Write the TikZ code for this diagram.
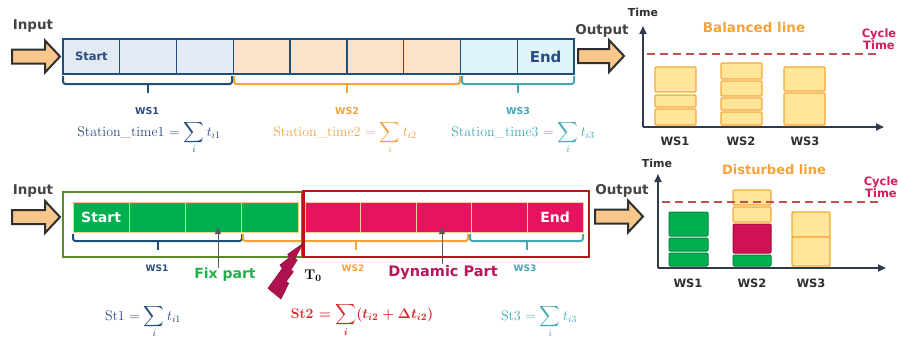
\RequirePackage{fix-cm}
\documentclass[tikz,border=0pt]{standalone}
\usepackage{amsmath}
\usepackage{fontspec}
\usetikzlibrary{arrows.meta}
\newfontfamily\vf{DejaVu Sans}
\newcommand\fsz[1]{\fontsize{#1}{#1}\selectfont}
\definecolor{dkblue}{HTML}{1F4E79}
\definecolor{txtblue}{HTML}{2B4C7E}
\definecolor{lblue}{HTML}{E2EAF4}
\definecolor{lorange}{HTML}{FCE3CB}
\definecolor{lcyan}{HTML}{DFF5FA}
\definecolor{orng}{HTML}{F6A33C}
\definecolor{tealc}{HTML}{42A8B6}
\definecolor{crimcell}{HTML}{E6135E}
\definecolor{dyntext}{HTML}{B8165A}
\definecolor{cyc}{HTML}{D81B60}
\definecolor{redf}{HTML}{D42A2A}
\definecolor{greencell}{HTML}{00B050}
\definecolor{fixgreen}{HTML}{22B04B}
\definecolor{gbox}{HTML}{5B8A2C}
\definecolor{rbox}{HTML}{B8151B}
\definecolor{celledge}{HTML}{F1D08A}
\definecolor{arrfill}{HTML}{F9C78B}
\definecolor{dkgray}{HTML}{2F2F2F}
\definecolor{yfill}{HTML}{FFE699}
\definecolor{ybord}{HTML}{F7A83A}
\definecolor{dashc}{HTML}{C0504D}
\definecolor{axisc}{HTML}{2F3A4A}
\definecolor{bolt}{HTML}{B0124F}
\newcommand\barr[3]{\draw[barrow,shift={(#1,#2)}] (0,-7) -- (#3-15,-7) -- (#3-15,-16) -- (#3,0) -- (#3-15,16) -- (#3-15,7) -- (0,7) -- cycle;}
\newcommand\wsbrace[6]{%
  \draw[#6, line width=2pt, rounded corners=2.5pt] (#1,#3) -- (#1,#4) -- (#2,#4) -- (#2,#3);
  \draw[#6, line width=2pt] ({(#1+#2)/2},#4) -- ({(#1+#2)/2},#5);}
\newcommand\bx[5]{\draw[#5] (#1,#3) rectangle (#2,#4);}
\tikzset{
  barrow/.style={fill=arrfill, draw=dkgray, line width=2pt, line join=miter},
  lbl/.style={font=\vf\bfseries, inner sep=0pt},
  tcell/.style={draw=dkblue, line width=1.4pt, minimum height=35pt, minimum width=56.78pt, inner sep=0pt},
  gcell/.style={draw=celledge, line width=0.9pt, fill=greencell, minimum height=30pt, minimum width=56.25pt, inner sep=0pt},
  rcell/.style={draw=celledge, line width=0.9pt, fill=crimcell, minimum height=30pt, minimum width=55.6pt, inner sep=0pt},
  ybar/.style={fill=yfill, draw=ybord, line width=1.4pt, rounded corners=1pt},
  gbar/.style={fill=greencell, draw=greencell!75!black, line width=1pt, rounded corners=1pt},
  cbar/.style={fill=crimcell!90!black, draw=crimcell!70!black, line width=1pt, rounded corners=1pt},
  axis/.style={draw=axisc, line width=1.8pt, -{Triangle[length=8pt,width=7pt]}},
  cyclen/.style={draw=dashc, line width=2pt, dash pattern=on 8pt off 5pt},
  pointer/.style={draw=dkgray!80, line width=1pt, -{Triangle[length=7pt,width=6pt]}},
  formula/.style={anchor=base, inner sep=0pt, font=\fsz{14}}
}
\begin{document}
\begin{tikzpicture}[x=1pt,y=-1pt]
\useasboundingbox[fill=white] (0,0) rectangle (898,338);

% ================= TOP ROW =================
\node[lbl, font=\vf\bfseries\fsz{13.5}, text=dkgray!90] (in1) at (33,26) {Input};
\barr{12}{56.5}{48}
\foreach \i/\c in {0/lblue,1/lblue,2/lblue,3/lorange,4/lorange,5/lorange,6/lorange,7/lcyan,8/lcyan}
  \node[tcell, fill=\c] (t\i) at ({63+56.78*(\i+0.5)},56.5) {};
\draw[dkblue, line width=2pt] (63,39) rectangle (574,74);
\node[lbl, font=\vf\bfseries\fsz{11.5}, text=txtblue] (startT) at (t0) {Start};
\node[lbl, font=\vf\bfseries\fsz{15}, text=txtblue] (endT) at (t8) {End};

\wsbrace{63}{232}{76}{84}{93}{dkblue}
\wsbrace{234}{460}{76}{84}{93}{orng}
\wsbrace{462}{574}{76}{84}{93}{tealc}
\node[lbl, font=\vf\bfseries\fsz{9.5}, text=txtblue] (ws1a) at (147,111) {WS1};
\node[lbl, font=\vf\bfseries\fsz{9.5}, text=orng] (ws2a) at (347,111) {WS2};
\node[lbl, font=\vf\bfseries\fsz{9.5}, text=tealc] (ws3a) at (518,111) {WS3};

\node[formula, text=txtblue] (f1) at (149,136) {Station\_time1 $= \displaystyle\sum_i t_{i1}$};
\node[formula, text=orng] (f2) at (345,136) {Station\_time2 $= \displaystyle\sum_i t_{i2}$};
\node[formula, text=tealc] (f3) at (523,136) {Station\_time3 $= \displaystyle\sum_i t_{i3}$};

\node[lbl, font=\vf\bfseries\fsz{13.5}, text=dkgray!90] (out1) at (602,31) {Output};
\barr{578}{56}{46}

% top chart
\coordinate (o1) at (643,127);
\coordinate (ty1) at (643,26);
\coordinate (tx1) at (884,127);
\draw[axis] (o1) -- (ty1);
\draw[axis] (o1) -- (tx1);
\node[lbl, font=\vf\bfseries\fsz{11}, text=dkgray] (time1) at (643,12) {Time};
\node[lbl, font=\vf\bfseries\fsz{13.5}, text=orng] (bal) at (754,27) {Balanced line};
\node[lbl, font=\vf\bfseries\fsz{11.5}, text=cyc, align=center] (cyc1) at (879,39) {Cycle\\[1pt]Time};
\coordinate (d1a) at (647,54);
\coordinate (d1b) at (877,54);
\draw[cyclen] (d1a) -- (d1b);
\bx{655}{696}{67}{92}{ybar}
\bx{655}{696}{95}{107}{ybar}
\bx{655}{696}{109}{125}{ybar}
\bx{721}{762}{63}{79}{ybar}
\bx{721}{762}{81}{96}{ybar}
\bx{721}{762}{98}{110}{ybar}
\bx{721}{762}{112}{125}{ybar}
\bx{784}{825}{67}{91}{ybar}
\bx{784}{825}{93}{125}{ybar}
\node[lbl, font=\vf\bfseries\fsz{11.5}, text=dkgray] (c1w1) at (675,141) {WS1};
\node[lbl, font=\vf\bfseries\fsz{11.5}, text=dkgray] (c1w2) at (741,141) {WS2};
\node[lbl, font=\vf\bfseries\fsz{11.5}, text=dkgray] (c1w3) at (805,141) {WS3};

% ================= BOTTOM ROW =================
\node[lbl, font=\vf\bfseries\fsz{13.5}, text=dkgray!90] (in2) at (33,191) {Input};
\barr{12}{217}{48}
\foreach \i in {0,...,3}
  \node[gcell] (b\i) at ({73+56.25*(\i+0.5)},217) {};
\foreach \i in {4,...,8}
  \node[rcell] (b\i) at ({305+55.6*(\i-4+0.5)},217) {};
\node[lbl, font=\vf\bfseries\fsz{14}, text=white] (startB) at (b0) {Start};
\node[lbl, font=\vf\bfseries\fsz{14}, text=white] (endB) at (b8) {End};

\wsbrace{73}{242}{234}{241}{250}{dkblue}
\wsbrace{243}{468}{234}{241}{250}{orng}
\wsbrace{470}{583}{234}{241}{250}{tealc}

\draw[gbox, line width=2.6pt] (63,192) rectangle (302,257);
\draw[rbox, line width=2.6pt] (303.5,191) rectangle (589,257);

\node[lbl, font=\vf\bfseries\fsz{9}, text=txtblue] (ws1b) at (157,268) {WS1};
\node[lbl, font=\vf\bfseries\fsz{9}, text=orng] (ws2b) at (353,268) {WS2};
\node[lbl, font=\vf\bfseries\fsz{9}, text=tealc] (ws3b) at (525,268) {WS3};
\node[lbl, font=\vf\bfseries\fsz{14}, text=fixgreen] (fixT) at (225,275) {Fix part};
\node[lbl, font=\vf\bfseries\fsz{14.5}, text=dyntext] (dynT) at (443,273) {Dynamic Part};
\coordinate (fixtip) at (218,227);
\coordinate (dyntip) at (442,227);
\draw[pointer] (fixT.north -| fixtip) -- (fixtip);
\draw[pointer] (dynT.north -| dyntip) ++(0,-2) -- (dyntip);

% lightning bolt
\fill[bolt, draw=bolt!80!black, line width=0.6pt, line join=miter]
  (303.3,243.3) -- (287.7,254.3) -- (289.5,257.5) -- (280,265) -- (282.3,268.5) -- (268,288.3)
  -- (281,299) -- (288.7,283.3) -- (286.2,281.5) -- (293.3,271.7) -- (290.8,269.8)
  -- (297.2,260) -- (294.8,258.3) -- cycle;
\node[inner sep=0pt, font=\fsz{14}\boldmath, text=black] (t0lbl) at (313,276) {$\mathbf{T_0}$};

\node[formula, text=txtblue] (g1) at (143,320) {St1 $= \displaystyle\sum_i t_{i1}$};
\node[formula, text=redf, font=\fsz{14}\bfseries\boldmath] (g2) at (362,318) {St2 $= \displaystyle\sum_i (t_{i2} + \Delta t_{i2})$};
\node[formula, text=tealc] (g3) at (539,320) {St3 $= \displaystyle\sum_i t_{i3}$};

\node[lbl, font=\vf\bfseries\fsz{13.5}, text=dkgray!90] (out2) at (622,191) {Output};
\barr{595}{216.5}{48}

% bottom chart
\coordinate (o2) at (658,268);
\coordinate (ty2) at (658,174);
\coordinate (tx2) at (886,268);
\draw[axis] (o2) -- (ty2);
\draw[axis] (o2) -- (tx2);
\node[lbl, font=\vf\bfseries\fsz{11}, text=dkgray] (time2) at (657,163) {Time};
\node[lbl, font=\vf\bfseries\fsz{13}, text=orng] (dist) at (774,170) {Disturbed line};
\node[lbl, font=\vf\bfseries\fsz{11.5}, text=cyc, align=center] (cyc2) at (881,187) {Cycle\\[1pt]Time};
\coordinate (d2a) at (662,202);
\coordinate (d2b) at (878,202);
\bx{669}{708}{212}{236}{gbar}
\bx{669}{708}{238}{251}{gbar}
\bx{669}{708}{253}{266}{gbar}
\bx{733}{771}{190}{205}{ybar}
\bx{733}{771}{207}{222}{ybar}
\bx{733}{771}{224}{253}{cbar}
\bx{733}{771}{255}{266}{gbar}
\bx{792}{830}{212}{237}{ybar}
\bx{792}{830}{237}{266}{ybar}
\draw[cyclen] (d2a) -- (d2b);
\node[lbl, font=\vf\bfseries\fsz{11.5}, text=dkgray] (c2w1) at (688,283) {WS1};
\node[lbl, font=\vf\bfseries\fsz{11.5}, text=dkgray] (c2w2) at (752,283) {WS2};
\node[lbl, font=\vf\bfseries\fsz{11.5}, text=dkgray] (c2w3) at (811,283) {WS3};
\end{tikzpicture}
\end{document}
